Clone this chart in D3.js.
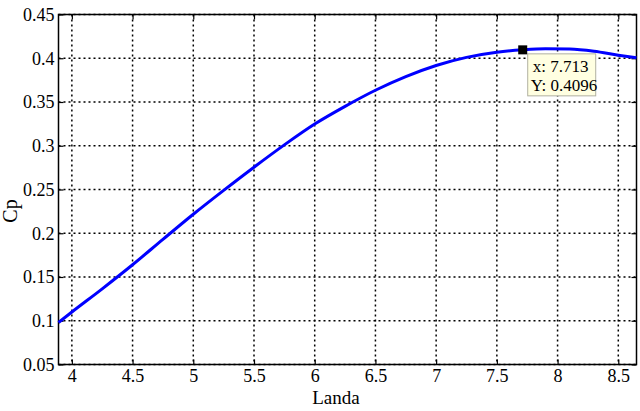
<!DOCTYPE html>
<html><head><meta charset="utf-8">
<script src="https://cdn.jsdelivr.net/npm/d3@7"></script>
<style>body{margin:0;background:#fff;} svg{display:block;}</style>
</head><body>
<script>
const landa = [3.89, 4.0, 4.25, 4.5, 4.75, 5.0, 5.25, 5.5, 5.75, 6.0, 6.25, 6.5, 6.75, 7.0, 7.25, 7.5, 7.713, 7.9, 8.1, 8.3, 8.5, 8.65];
const cp    = [0.098, 0.110, 0.1365, 0.164, 0.193, 0.2217, 0.249, 0.2755, 0.301, 0.3248, 0.345, 0.3634, 0.379, 0.3917, 0.401, 0.4069, 0.4096, 0.4108, 0.4105, 0.408, 0.4035, 0.4005];
const xTicks = [4, 4.5, 5, 5.5, 6, 6.5, 7, 7.5, 8, 8.5];
const yTicks = [0.05, 0.1, 0.15, 0.2, 0.25, 0.3, 0.35, 0.4, 0.45];
const tipX = 7.713, tipY = 0.4096;

const W = 640, H = 411;
const m = {l: 58.5, t: 14.5, r: 636.5, b: 364.5};
const svg = d3.select("body").append("svg").attr("width", W).attr("height", H);
const x = d3.scaleLinear().domain([3.89, 8.65]).range([m.l, m.r]);
const y = d3.scaleLinear().domain([0.05, 0.45]).range([m.b, m.t]);
const font = "'Liberation Serif','Times New Roman',serif";

// grid
const g = svg.append("g");
g.selectAll(".vg").data(xTicks).join("line")
  .attr("x1", d => x(d)).attr("x2", d => x(d)).attr("y1", m.t).attr("y2", m.b)
  .attr("stroke", "#000").attr("stroke-width", 1.5).attr("stroke-dasharray", "2,3");
g.selectAll(".hg").data(yTicks).join("line")
  .attr("y1", d => y(d)).attr("y2", d => y(d)).attr("x1", m.l).attr("x2", m.r)
  .attr("stroke", "#000").attr("stroke-width", 1.5).attr("stroke-dasharray", "2,3");

// axes
const xAxis = d3.axisBottom(x).tickValues(xTicks).tickSizeInner(-5).tickSizeOuter(0).tickPadding(5).tickFormat(d3.format("~g"));
const yAxis = d3.axisLeft(y).tickValues(yTicks).tickSizeInner(-5).tickSizeOuter(0).tickPadding(4).tickFormat(d => d3.format("~g")(d));
const xa = svg.append("g").attr("transform", `translate(0,${m.b})`).call(xAxis);
const ya = svg.append("g").attr("transform", `translate(${m.l},0)`).call(yAxis);
const xt = svg.append("g").attr("transform", `translate(0,${m.t})`).call(d3.axisTop(x).tickValues(xTicks).tickSizeInner(-5).tickSizeOuter(0).tickFormat(""));
const yr = svg.append("g").attr("transform", `translate(${m.r},0)`).call(d3.axisRight(y).tickValues(yTicks).tickSizeInner(-5).tickSizeOuter(0).tickFormat(""));
[xa, ya, xt, yr].forEach(a => {
  a.select(".domain").remove();
  a.selectAll("line").attr("stroke", "#000").attr("stroke-width", 1.2);
  a.selectAll("text").attr("font-family", font).attr("font-size", 18).attr("fill", "#000");
});
svg.append("rect").attr("x", m.l).attr("y", m.t).attr("width", m.r - m.l).attr("height", m.b - m.t)
  .attr("fill", "none").attr("stroke", "#000").attr("stroke-width", 1.5);

// line
const data = landa.map((v, i) => [v, cp[i]]);
svg.append("path").datum(data)
  .attr("d", d3.line().x(d => x(d[0])).y(d => y(d[1])).curve(d3.curveMonotoneX))
  .attr("fill", "none").attr("stroke", "#0000ff").attr("stroke-width", 3);

// labels
svg.append("text").attr("x", 336).attr("y", 404).attr("text-anchor", "middle")
  .attr("font-family", font).attr("font-size", 19).text("Landa");
svg.append("text").attr("transform", "translate(17,211) rotate(-90)").attr("text-anchor", "middle")
  .attr("font-family", font).attr("font-size", 20).text("Cp");

// data tip
const tx = x(tipX), ty = y(tipY);
svg.append("rect").attr("x", tx + 5).attr("y", ty + 4).attr("width", 68).attr("height", 42)
  .attr("fill", "#ffffe1").attr("stroke", "#b0b0a0").attr("stroke-width", 1);
svg.append("text").attr("x", tx + 10).attr("y", ty + 22).attr("font-family", font).attr("font-size", 17).text("x: " + tipX);
svg.append("text").attr("x", tx + 8).attr("y", ty + 41).attr("font-family", font).attr("font-size", 17).text("Y: " + tipY);
svg.append("rect").attr("x", tx - 4.5).attr("y", ty - 4.5).attr("width", 9).attr("height", 9).attr("fill", "#000");
</script>
</body></html>
